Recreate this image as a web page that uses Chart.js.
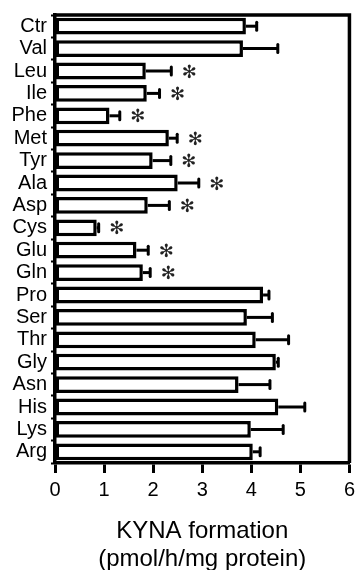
<!DOCTYPE html>
<html>
<head>
<meta charset="utf-8">
<script src="https://cdn.jsdelivr.net/npm/chart.js@4/dist/chart.umd.min.js"></script>
<style>
  body { margin: 0; background: #fff; }
</style>
</head>
<body>
<canvas id="kyna" width="360" height="570"></canvas>
<script>
// amino acids tested (top to bottom)
var aminoAcids = ["Ctr", "Val", "Leu", "Ile", "Phe", "Met", "Tyr", "Ala", "Asp", "Cys",
                  "Glu", "Gln", "Pro", "Ser", "Thr", "Gly", "Asn", "His", "Lys", "Arg"];
// KYNA formation, pmol/h/mg protein
var kynaMean = [3.89, 3.83, 1.85, 1.87, 1.11, 2.32, 1.99, 2.50, 1.89, 0.85,
                1.66, 1.79, 4.24, 3.91, 4.09, 4.50, 3.74, 4.55, 3.99, 4.03];
var kynaErr  = [0.22, 0.71, 0.52, 0.26, 0.21, 0.17, 0.37, 0.43, 0.44, 0.04,
                0.24, 0.15, 0.12, 0.52, 0.67, 0.05, 0.64, 0.54, 0.66, 0.15];
// significant vs control
var significant = [0, 0, 1, 1, 1, 1, 1, 1, 1, 1,
                   1, 1, 0, 0, 0, 0, 0, 0, 0, 0];
var xTicks = [0, 1, 2, 3, 4, 5, 6];

var ctx = document.getElementById("kyna").getContext("2d");

// error bars (positive side only) and asterisks
var errorBars = {
    id: "errorBars",
    afterDatasetsDraw: function(chart) {
        var c = chart.ctx;
        var xs = chart.scales.x;
        var ys = chart.scales.y;
        c.save();
        c.strokeStyle = "#000";
        c.lineWidth = 3;
        for (var i = 0; i < kynaMean.length; i++) {
            var y = ys.getPixelForValue(i);
            var x0 = xs.getPixelForValue(kynaMean[i]);
            var x1 = xs.getPixelForValue(kynaMean[i] + kynaErr[i]);
            c.lineCap = "butt";
            c.beginPath();
            c.moveTo(x0, y);
            c.lineTo(x1, y);
            c.stroke();
            c.lineCap = "round";
            c.beginPath();
            c.moveTo(x1, y - 4);
            c.lineTo(x1, y + 4);
            c.stroke();
            if (significant[i]) {
                c.fillStyle = "#222";
                c.font = "18px 'DejaVu Sans'";
                c.textAlign = "center";
                c.textBaseline = "middle";
                c.fillText("\u273B", x1 + 18, y + 2);
            }
        }
        c.restore();
    },
    afterDraw: function(chart) {
        var a = chart.chartArea;
        var c = chart.ctx;
        c.save();
        c.strokeStyle = "#000";
        c.lineWidth = 3.5;
        c.beginPath();
        c.moveTo(a.left, a.top);
        c.lineTo(a.right, a.top);
        c.lineTo(a.right, a.bottom);
        c.stroke();
        c.restore();
    }
};

var chart = new Chart(ctx, {
    type: "bar",
    data: {
        labels: aminoAcids,
        datasets: [{
            data: kynaMean,
            backgroundColor: "#fff",
            borderColor: "#000",
            borderWidth: 3.5,
            borderSkipped: false,
            barPercentage: 0.75,
            categoryPercentage: 1.0
        }]
    },
    options: {
        indexAxis: "y",
        responsive: false,
        devicePixelRatio: 1,
        animation: false,
        layout: { padding: { top: 15, right: 7, left: 0, bottom: 0 } },
        plugins: {
            legend: { display: false },
            tooltip: { enabled: false }
        },
        scales: {
            x: {
                min: 0,
                max: 6,
                afterBuildTicks: function(scale) {
                    scale.ticks = xTicks.map(function(v) { return { value: v }; });
                },
                afterFit: function(scale) { scale.height = 107; },
                ticks: {
                    color: "#000",
                    font: { family: "'Liberation Sans', Arial", size: 20 },
                    padding: 5,
                    maxRotation: 0
                },
                grid: {
                    drawOnChartArea: false,
                    drawTicks: true,
                    tickLength: 10,
                    tickWidth: 3,
                    tickColor: "#000"
                },
                border: { display: true, color: "#000", width: 3.5 },
                title: {
                    display: true,
                    text: ["KYNA formation", "(pmol/h/mg protein)"],
                    color: "#000",
                    font: { family: "'Liberation Sans', Arial", size: 24, lineHeight: 1.17 },
                    padding: { top: 0, bottom: -3 }
                }
            },
            y: {
                afterFit: function(scale) { scale.width = 55; },
                ticks: {
                    color: "#000",
                    font: { family: "'Liberation Sans', Arial", size: 20, lineHeight: 1 },
                    padding: 4,
                    autoSkip: false
                },
                grid: {
                    drawOnChartArea: false,
                    drawTicks: true,
                    offset: true,
                    tickLength: 4,
                    tickWidth: 2,
                    tickColor: "#000"
                },
                border: { display: true, color: "#000", width: 3.5 }
            }
        }
    },
    plugins: [errorBars]
});
</script>
</body>
</html>
